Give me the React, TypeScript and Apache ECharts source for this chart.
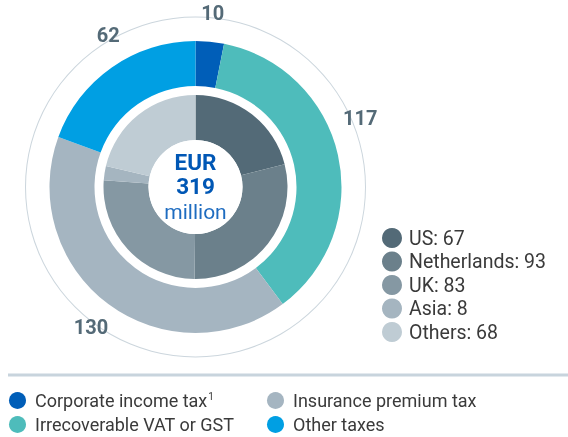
import React, { useEffect, useRef } from "react";
import * as echarts from "echarts";

const taxCategories = ["Corporate income tax", "Irrecoverable VAT or GST", "Insurance premium tax", "Other taxes"];
const taxValues = [10, 117, 130, 62];
const taxColors = ["#005EB8", "#4EBCBB", "#A5B5C1", "#009FE3"];

const regionCategories = ["US", "Netherlands", "UK", "Asia", "Others"];
const regionValues = [67, 93, 83, 8, 68];
const regionColors = ["#536A77", "#6B808B", "#8598A3", "#A5B5C0", "#BFCCD4"];

const totalLabel = ["EUR", "319", "million"];

// per-label nudges for outer value labels (text placement only)
const labelOffsets: number[][] = [[0, 0], [-6, -31], [0, 0], [13, -9]];

export default function App() {
  const ref = useRef<HTMLDivElement>(null);
  useEffect(() => {
    if (!ref.current) return;
    const chart = echarts.init(ref.current, undefined, { renderer: "svg" });
    const center = [195.5, 187];
    const font = "Roboto";
    const regionMap: Record<string, number> = {};
    regionCategories.forEach((c, i) => (regionMap[c] = regionValues[i]));
    chart.setOption({
      animation: false,
      textStyle: { fontFamily: font },
      legend: [
        {
          orient: "vertical",
          left: 382,
          top: 228,
          padding: 0,
          itemWidth: 20,
          itemHeight: 20,
          itemGap: 3.5,
          icon: "circle",
          data: regionCategories,
          formatter: (n: string) => `${n}: ${regionMap[n]}`,
          textStyle: { fontSize: 19.5, color: "#3a3a3a", fontFamily: font, padding: [0, 0, 0, 2] },
          selectedMode: false,
        },
        {
          orient: "vertical",
          left: 9,
          top: 391.5,
          padding: 0,
          itemWidth: 17,
          itemHeight: 17,
          itemGap: 6,
          icon: "circle",
          data: [taxCategories[0], taxCategories[1]],
          formatter: (n: string) => (n === taxCategories[0] ? `${n}{sup|1}` : n),
          textStyle: {
            fontSize: 18,
            color: "#3a3a3a",
            fontFamily: font,
            padding: [0, 0, 0, 4],
            rich: { sup: { fontSize: 10, verticalAlign: "top", padding: [0, 0, 8, 1], color: "#3a3a3a", fontFamily: font } },
          },
          selectedMode: false,
        },
        {
          orient: "vertical",
          left: 267,
          top: 391.5,
          padding: 0,
          itemWidth: 17,
          itemHeight: 17,
          itemGap: 6,
          icon: "circle",
          data: [taxCategories[2], taxCategories[3]],
          textStyle: { fontSize: 18, color: "#3a3a3a", fontFamily: font, padding: [0, 0, 0, 4] },
          selectedMode: false,
        },
      ],
      graphic: [
        {
          type: "line",
          shape: { x1: 8, y1: 375, x2: 568, y2: 375 },
          style: { stroke: "#C8D4DD", lineWidth: 3 },
          silent: true,
        },
      ],
      series: [
        {
          type: "pie",
          name: "ring",
          center,
          radius: [169.5, 170.5],
          silent: true,
          label: { show: false },
          labelLine: { show: false },
          data: [{ name: "ring", value: 1, itemStyle: { color: "#CCD6DD" } }],
        },
        {
          type: "pie",
          name: "taxes",
          center,
          radius: [101, 146],
          startAngle: 90,
          clockwise: true,
          silent: true,
          label: { show: false },
          labelLine: { show: false },
          data: taxCategories.map((n, i) => ({ name: n, value: taxValues[i], itemStyle: { color: taxColors[i] } })),
        },
        {
          type: "pie",
          name: "taxLabels",
          center,
          radius: [160, 184],
          startAngle: 90,
          clockwise: true,
          silent: true,
          labelLine: { show: false },
          data: taxCategories.map((n, i) => ({
            name: `${n} label`,
            value: taxValues[i],
            itemStyle: { color: "rgba(0,0,0,0)" },
            label: {
              show: true,
              position: "inside",
              formatter: String(taxValues[i]),
              offset: labelOffsets[i],
              color: "#546A77",
              fontWeight: "bold",
              fontSize: 20,
              fontFamily: font,
            },
          })),
        },
        {
          type: "pie",
          name: "regions",
          center,
          radius: [47, 92],
          startAngle: 90,
          clockwise: true,
          silent: true,
          label: { show: false },
          labelLine: { show: false },
          data: regionCategories.map((n, i) => ({ name: n, value: regionValues[i], itemStyle: { color: regionColors[i] } })),
        },
        {
          type: "pie",
          name: "centerText",
          center,
          radius: [0, 47],
          silent: true,
          labelLine: { show: false },
          data: [
            {
              name: "total",
              value: 1,
              itemStyle: { color: "#ffffff" },
              label: {
                show: true,
                position: "center",
                formatter: `{a|${totalLabel[0]}}\n{a|${totalLabel[1]}}\n{b|${totalLabel[2]}}`,
                rich: {
                  a: { fontSize: 22.5, fontWeight: "bold", color: "#0057B5", lineHeight: 24.5, fontFamily: font },
                  b: { fontSize: 21, color: "#1E6CC0", lineHeight: 26, fontFamily: font },
                },
              },
            },
          ],
        },
      ],
    });
    return () => chart.dispose();
  }, []);
  return <div ref={ref} style={{ position: "fixed", left: 0, top: 0, width: 568, height: 437 }} />;
}
